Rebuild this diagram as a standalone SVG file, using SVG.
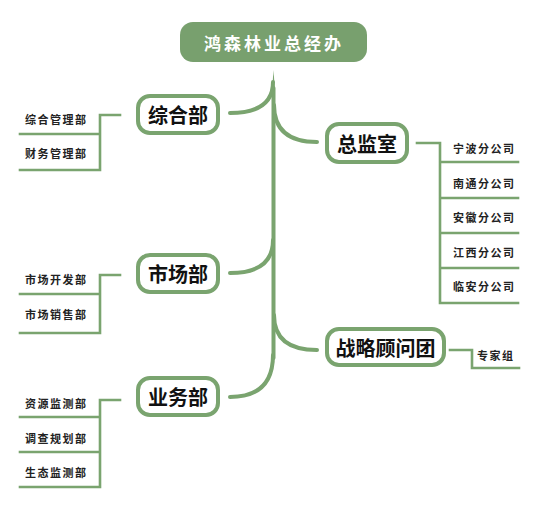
<svg xmlns="http://www.w3.org/2000/svg" width="546" height="521" viewBox="0 0 546 521">
<style>
.br{fill:none;stroke:#7aa46f;stroke-width:4;stroke-linecap:round}
.ln{fill:none;stroke:#7aa46f;stroke-width:2.6;stroke-linecap:square;stroke-linejoin:miter}
.box{fill:#fff;stroke:#7aa46f;stroke-width:4}
.t1{font-family:"Noto Sans CJK SC","Noto Sans",sans-serif;font-weight:700;font-size:20px;fill:#111;text-anchor:middle;dominant-baseline:central}
.t2{font-family:"Noto Sans CJK SC","Noto Sans",sans-serif;font-weight:700;font-size:11px;letter-spacing:1.5px;fill:#222;dominant-baseline:central}
</style>
<rect width="546" height="521" fill="#fff"/>
<g id="connectors">
<path d="M272,92 L273.5,70 L275,92 Z" fill="#7aa46f"/>
<path class="br" d="M273.5,88 L273.5,358"/>
<path class="br" d="M273,82 Q273,113 230,113"/>
<path class="br" d="M274,105 Q274,142 317,142"/>
<path class="br" d="M273,240 Q273,273 230,273"/>
<path class="br" d="M274,315 Q274,350 317,350"/>
<path class="br" d="M273,355 Q273,397 230,397"/>
<path class="ln" d="M120,115 H100 V170 H20 M100,134 H20"/>
<path class="ln" d="M120,275 H100 V333 H20 M100,294 H20"/>
<path class="ln" d="M120,400 H100 V487 H20 M100,417 H20 M100,452 H20"/>
<path class="ln" d="M417,143 H440 V303 H518 M440,162 H518 M440,198 H518 M440,233 H518 M440,268 H518"/>
<path class="ln" d="M450,350 H472 V368 H519"/>
</g>
<g id="root">
<rect x="180" y="22" width="187" height="40" rx="13" fill="#78a06e"/>
<text x="274" y="42" font-family="'Noto Sans CJK SC','Noto Sans',sans-serif" font-weight="700" font-size="17" letter-spacing="3" fill="#fff" text-anchor="middle" dominant-baseline="central">鸿森林业总经办</text>
</g>
<g id="n-zonghe">
<rect class="box" x="138" y="96" width="80" height="37" rx="12"/>
<text class="t1" x="178" y="114.5">综合部</text>
</g>
<g id="n-shichang">
<rect class="box" x="138" y="255" width="80" height="37" rx="12"/>
<text class="t1" x="178" y="273.5">市场部</text>
</g>
<g id="n-yewu">
<rect class="box" x="138" y="378" width="80" height="37" rx="12"/>
<text class="t1" x="178" y="396.5">业务部</text>
</g>
<g id="n-zongjian">
<rect class="box" x="327" y="124" width="80" height="38" rx="12"/>
<text class="t1" x="367" y="143">总监室</text>
</g>
<g id="n-zhanlue">
<rect class="box" x="327" y="329" width="117" height="36" rx="12"/>
<text class="t1" x="385.5" y="347">战略顾问团</text>
</g>
<g id="leaves">
<text class="t2" x="25" y="119">综合管理部</text>
<text class="t2" x="25" y="153">财务管理部</text>
<text class="t2" x="25" y="279">市场开发部</text>
<text class="t2" x="25" y="314">市场销售部</text>
<text class="t2" x="25" y="403">资源监测部</text>
<text class="t2" x="25" y="438">调查规划部</text>
<text class="t2" x="25" y="472">生态监测部</text>
<text class="t2" x="453" y="148">宁波分公司</text>
<text class="t2" x="453" y="183">南通分公司</text>
<text class="t2" x="453" y="217">安徽分公司</text>
<text class="t2" x="453" y="252">江西分公司</text>
<text class="t2" x="453" y="286">临安分公司</text>
<text class="t2" x="477" y="355">专家组</text>
</g>
</svg>
